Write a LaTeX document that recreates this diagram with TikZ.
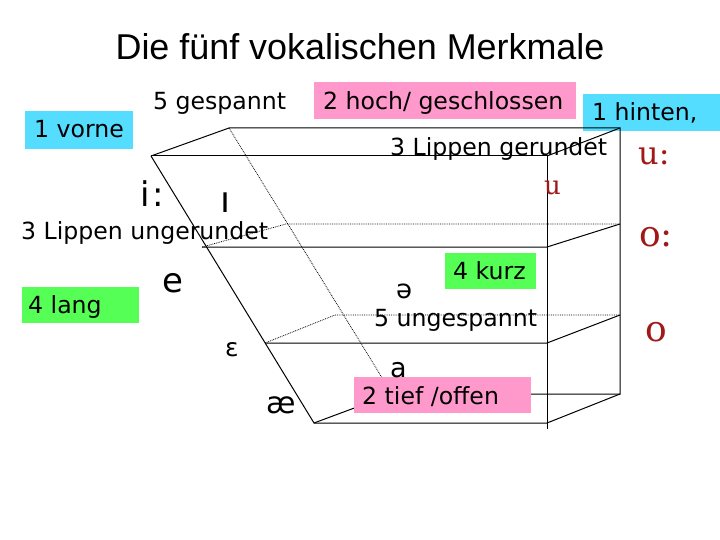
\documentclass[tikz,border=0pt]{standalone}
\usepackage{fontspec}
\setmainfont{DejaVu Sans}
\newfontfamily\titlefont{Liberation Sans}
\newfontfamily\redfont{DejaVu Serif}
\definecolor{pinkbox}{HTML}{FF99CC}
\definecolor{bluebox}{HTML}{55DDFF}
\definecolor{greenbox}{HTML}{55FF55}
\definecolor{vowelred}{HTML}{A01818}
\tikzset{
  solidedge/.style={draw=black,line width=1pt},
  dotedge/.style={draw=black,line width=0.8pt,densely dotted},
  lab/.style={inner sep=0pt,font=\fontsize{23.6}{28}\selectfont,anchor=base west},
  vow/.style={inner sep=0pt,anchor=base west,font=\fontsize{34}{40}\selectfont},
  redvow/.style={inner sep=0pt,anchor=base west,text=vowelred,font=\redfont\fontsize{32}{38}\selectfont}
}
\begin{document}
\begin{tikzpicture}[x=1pt,y=-1pt]
\useasboundingbox (0,0) rectangle (720,540);
% corners of the solid
\coordinate (ftl) at (151,156);
\coordinate (btl) at (229,128);
\coordinate (ftr) at (547,156);
\coordinate (btr) at (620,128);
\coordinate (fml) at (202,247);
\coordinate (bml) at (286,224);
\coordinate (fmr) at (547,247);
\coordinate (bmr) at (620,224);
\coordinate (fnl) at (265,343);
\coordinate (bnl) at (335,315);
\coordinate (fnr) at (547,343);
\coordinate (bnr) at (620,315);
\coordinate (fbl) at (314,423);
\coordinate (bbl) at (392,394);
\coordinate (fbr) at (547,423);
\coordinate (bbr) at (620,394);
\coordinate (fend) at (547,429);
% boxes
\fill[bluebox] (583,94) rectangle (720,131);
\fill[bluebox] (25,111) rectangle (133,149);
\fill[greenbox] (22,287) rectangle (139,323);
\fill[pinkbox] (314,82) rectangle (576,119);
\fill[greenbox] (445,253) rectangle (536,289);
% solid
\draw[solidedge] (ftl) -- (btl) -- (btr) -- (bbr) -- (bbl);
\draw[solidedge] (ftl) -- (ftr) -- (fend);
\draw[solidedge] (ftr) -- (btr);
\draw[solidedge] (ftl) -- (fbl) -- (fbr) -- (bbr);
\draw[solidedge] (fbl) -- (bbl);
\draw[solidedge] (fml) -- (fmr) -- (bmr);
\draw[solidedge] (fnl) -- (fnr) -- (bnr);
\draw[dotedge] (btl) -- (bbl);
\draw[dotedge] (fml) -- (bml) -- (bmr);
\draw[dotedge] (fnl) -- (bnl) -- (bnr);
\fill[pinkbox] (354,377) rectangle (531,413);
% title
\node[inner sep=0pt,anchor=base,font=\titlefont\fontsize{35.9}{42}\selectfont] (title) at (360,60) {Die fünf vokalischen Merkmale};
% labels
\node[lab] (vorne) at (34,138) {1 vorne};
\node[lab] (gesp) at (153,110) {5 gespannt};
\node[lab] (hoch) at (323,110) {2 hoch/ geschlossen};
\node[lab] (hinten) at (592,121) {1 hinten,};
\node[lab] (gerundet) at (390,156) {3 Lippen gerundet};
\node[lab] (ungerundet) at (21,240) {3 Lippen ungerundet};
\node[lab] (lang) at (28,313) {4 lang};
\node[lab] (kurz) at (453,279) {4 kurz};
\node[lab] (unges) at (374,326) {5 ungespannt};
\node[lab] (tief) at (362,404) {2 tief /offen};
% vowels
\node[vow] (ii) at (140,207) {i\kern3pt:};
\node[vow,font=\fontsize{36}{40}\selectfont] (ih) at (220,213) {ı};
\node[vow] (e) at (162,292) {e};
\node[vow,font=\fontsize{26}{30}\selectfont] (schwa) at (396,298) {ə};
\node[vow,font=\fontsize{25}{28}\selectfont] (eh) at (225,356) {ɛ};
\node[vow,font=\fontsize{30}{34}\selectfont] (ae) at (266,413) {æ};
\node[vow,font=\fontsize{27}{30}\selectfont] (a) at (390,377) {a};
\node[redvow,font=\redfont\fontsize{26}{30}\selectfont] (u) at (544,195) {u};
\node[redvow] (uu) at (638,165) {u:};
\node[redvow,font=\redfont\fontsize{36}{42}\selectfont] (oo) at (639,246) {o:};
\node[redvow,font=\redfont\fontsize{36}{42}\selectfont] (o) at (645,341) {o};
\end{tikzpicture}
\end{document}
